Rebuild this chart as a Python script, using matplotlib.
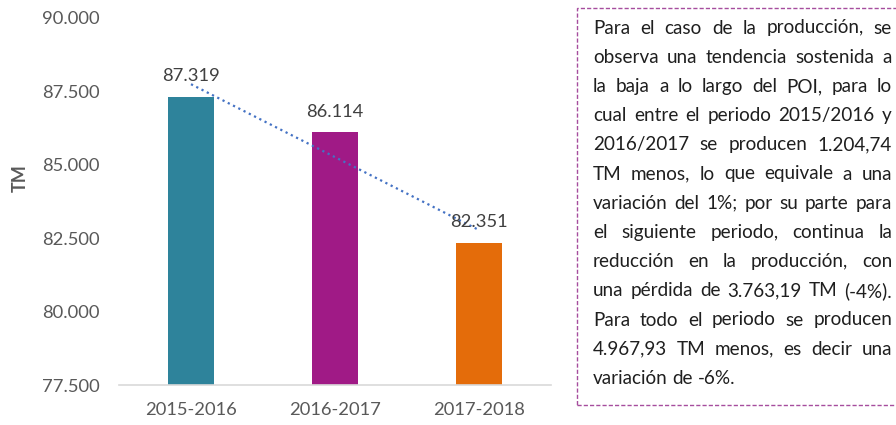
# Produccion (TM) por periodo, barras con linea de tendencia y recuadro de texto.
import matplotlib
matplotlib.use("Agg")
import matplotlib.pyplot as plt
from matplotlib.patches import Rectangle
import numpy as np

periods = ["2015-2016", "2016-2017", "2017-2018"]
production = [87319, 86114, 82351]
bar_colors = ["#2E839B", "#A01A86", "#E46C0A"]
y_ticks = [77500, 80000, 82500, 85000, 87500, 90000]

note_lines = [
    "Para el caso de la producción, se",
    "observa una tendencia sostenida a",
    "la baja a lo largo del POI, para lo",
    "cual entre el periodo 2015/2016 y",
    "2016/2017 se producen 1.204,74",
    "TM menos, lo que equivale a una",
    "variación del 1%; por su parte para",
    "el siguiente periodo, continua la",
    "reducción en la producción, con",
    "una pérdida de 3.763,19 TM (-4%).",
    "Para todo el periodo se producen",
    "4.967,93 TM menos, es decir una",
    "variación de -6%.",
]

plt.rcParams["font.family"] = ["Lato", "DejaVu Sans"]
GRAY = "#595959"
W, H = 896, 425

fig = plt.figure(figsize=(W / 100, H / 100), dpi=100)
ax = fig.add_axes([119 / W, 40 / H, 432 / W, 367 / H])

x = np.arange(len(periods))
ax.bar(x, production, width=0.32, color=bar_colors, zorder=2)

# linear trend line (dotted), like the Excel one
k, b = np.polyfit(x, production, 1)
ax.plot(x, k * x + b, linestyle=":", color="#4472C4", lw=1.6, zorder=3)

def fmt(v):
    return f"{v:,.0f}".replace(",", ".")

for xi, v in zip(x, production):
    ax.annotate(fmt(v), (xi, v), xytext=(0, 9), textcoords="offset points",
                ha="center", va="bottom", fontsize=13.2, color="#404040", zorder=4)

ax.set_xlim(-0.5, 2.5)
ax.set_ylim(77500, 90000)
ax.set_yticks(y_ticks)
ax.set_yticklabels([fmt(t) for t in y_ticks])
ax.set_xticks(x)
ax.set_xticklabels(periods)
ax.tick_params(axis="y", length=0, pad=14, labelsize=13.2, labelcolor=GRAY)
ax.tick_params(axis="x", length=0, pad=12, labelsize=13.2, labelcolor=GRAY)
for s in ["top", "right", "left"]:
    ax.spines[s].set_visible(False)
ax.spines["bottom"].set_color("#D9D9D9")
ax.spines["bottom"].set_linewidth(1.2)
fig.text(20 / W, 1 - 178 / H, "TM", rotation=90, ha="center", va="center",
         fontsize=13, fontweight="bold", color=GRAY)

# dashed box with justified text
fig.patches.append(Rectangle((577 / W, 1 - 405 / H), 330 / W, 397 / H,
                             transform=fig.transFigure, fill=False,
                             edgecolor="#A64D9E", lw=1.0,
                             linestyle=(0, (3, 1.5)), clip_on=False))

fig.canvas.draw()
r = fig.canvas.get_renderer()
left, right = 593, 892
y0, dy = 28, 29.2
fs = 13.6

def width_of(s):
    t = fig.text(0, 0, s, fontsize=fs)
    w = t.get_window_extent(r).width
    t.remove()
    return w

space = width_of("a a") - 2 * width_of("a")
for i, line in enumerate(note_lines):
    words = line.split()
    texts = [fig.text(0, 0, w, fontsize=fs, color="#1F1F1F", va="center") for w in words]
    widths = [t.get_window_extent(r).width for t in texts]
    if i == len(note_lines) - 1:
        gap = space
    else:
        gap = max(space * 0.6, (right - left - sum(widths)) / (len(words) - 1))
    xp = left
    for t, wd in zip(texts, widths):
        t.set_position((xp / W, 1 - (y0 + i * dy) / H))
        xp += wd + gap

fig.savefig("out.png", dpi=100)
